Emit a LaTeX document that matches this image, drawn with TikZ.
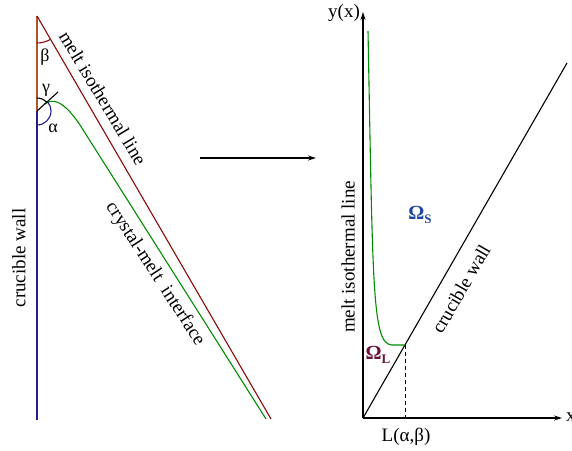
\documentclass[tikz,border=0pt]{standalone}
\usepackage{fontspec}
\setmainfont{Liberation Serif}
\usetikzlibrary{arrows.meta}
\definecolor{wallbrown}{RGB}{175,85,40}
\definecolor{wallblue}{RGB}{30,30,140}
\definecolor{meltred}{RGB}{140,10,10}
\definecolor{ifgreen}{RGB}{0,140,0}
\definecolor{omegas}{RGB}{30,70,160}
\definecolor{omegal}{RGB}{110,15,60}
\tikzset{
  ln/.style={line width=1.1pt},
  lbl/.style={font=\fontsize{19}{22}\selectfont, inner sep=0pt},
  greek/.style={font=\fontsize{18}{20}\selectfont, inner sep=0pt},
  arr/.style={ln, -{Stealth[length=8pt,width=5pt]}},
}
\begin{document}
\begin{tikzpicture}[x=1pt,y=1pt]
\useasboundingbox (0,0) rectangle (572,450);
% ---------- left part ----------
\coordinate (T) at (37,434);
\coordinate (J) at (37,339);
\coordinate (B) at (37,30);
\coordinate (M) at (271,31);
\coordinate (tanEnd) at (58,358);
\coordinate (G0) at (45,346);
\coordinate (G1) at (80,325);
\coordinate (G2) at (266,31);
\draw[ln, wallbrown] (T) -- (J);
\draw[ln, wallblue] (J) -- (B);
\draw[ln, meltred] (T) -- (M);
\draw[ln, ifgreen] (G0) .. controls (51,351) and (62,352) .. (G1) -- (G2);
\draw[ln, black] (J) -- (tanEnd);
% angle arcs
\draw[ln, meltred] ([shift={(270:27)}]T) arc[start angle=270, end angle=300, radius=27];
\draw[ln, black] ([shift={(42:13)}]J) arc[start angle=42, end angle=90, radius=13];
\draw[ln, wallblue] ([shift={(-90:14)}]J) arc[start angle=-90, end angle=40, radius=14];
\node[greek] (beta) at (45,393) {β};
\node[greek] (gamma) at (46,360) {γ};
\node[greek] (alpha) at (53,322) {α};
% left labels
\node[lbl, rotate=90] (cwL) at (19,192) {crucible wall};
\node[lbl, rotate=-59] (mlL) at (103,352) {melt isothermal line};
\node[lbl, rotate=-57] (cmi) at (155,176) {crystal-melt\ \ interface};
% middle arrow
\coordinate (A0) at (200,292);
\coordinate (A1) at (316,292);
\draw[arr] (A0) -- (A1);
% ---------- right part ----------
\coordinate (O) at (363,32);
\coordinate (Ytop) at (363,438);
\coordinate (Xend) at (562,32);
\coordinate (W) at (567,387);
\coordinate (P) at (405,105);
\coordinate (Pb) at (405,32);
\coordinate (H0) at (368,419);
\coordinate (H1) at (392,105);
\draw[arr] (O) -- (Ytop);
\draw[arr] (O) -- (Xend);
\draw[ln] (O) -- (W);
\draw[ln, ifgreen] (H0) .. controls (373,160) and (372,106) .. (H1) -- (P);
\draw[line width=1pt, dashed, dash pattern=on 4pt off 3pt] (P) -- (Pb);
\node[lbl] (ylab) at (344,437) {y(x)};
\node[lbl, anchor=west] (xlab) at (566,33) {x};
\node[lbl] (Llab) at (406,13) {L(α,β)};
\node[lbl, text=omegas, font=\fontsize{20}{22}\selectfont\bfseries] (OmS) at (420,235) {Ω\raisebox{-4pt}{\fontsize{13}{13}\selectfont S}};
\node[lbl, text=omegal, font=\fontsize{20}{22}\selectfont\bfseries] (OmL) at (378,95) {Ω\raisebox{-4pt}{\fontsize{13}{13}\selectfont L}};
\node[lbl, rotate=90] (mlR) at (348,193) {melt isothermal line};
\node[lbl, rotate=60] (cwR) at (461,161) {crucible wall};
\end{tikzpicture}
\end{document}
